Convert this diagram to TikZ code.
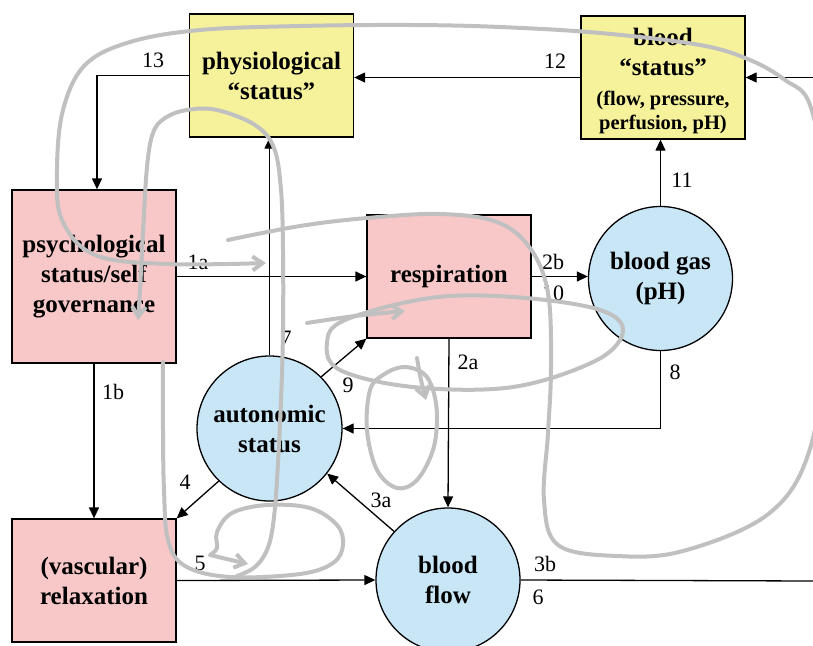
\documentclass[tikz,border=0pt]{standalone}
\usepackage{fontspec}
\setmainfont{Liberation Serif}
\usetikzlibrary{arrows.meta}
\definecolor{boxyellow}{RGB}{245,242,155}
\definecolor{boxpink}{RGB}{248,200,201}
\definecolor{circblue}{RGB}{200,230,246}
\definecolor{scribble}{RGB}{192,192,192}
\tikzset{
  boxbase/.style={draw, line width=1.3pt, minimum width=164pt, minimum height=123pt, inner sep=0pt, align=center, font=\fontsize{25}{30}\selectfont\bfseries},
  ybox/.style={boxbase, fill=boxyellow},
  pbox/.style={boxbase, fill=boxpink},
  cnode/.style={circle, draw, line width=1.3pt, fill=circblue, minimum size=145pt, inner sep=0pt, align=center, font=\fontsize{25}{30}\selectfont\bfseries},
  link/.style={line width=1.3pt, -{Triangle[length=11pt,width=10pt]}},
  plainlink/.style={line width=1.3pt},
  lbl/.style={font=\fontsize{22}{26}\selectfont, inner sep=0pt},
  scr/.style={draw=scribble, line width=4pt, line cap=round, line join=round},
  scrarr/.style={scr, -{Straight Barb[length=10pt,width=14pt]}},
}
\newcommand{\smallline}[1]{{\fontsize{20.5}{24}\selectfont #1}}
\begin{document}
\begin{tikzpicture}[x=1pt, y=-1pt]
\useasboundingbox (0,0) rectangle (813,645);
\clip (0,0) rectangle (813,645);
% nodes
\node[ybox] (phys) at (271.5,75.5) {physiological\\“status”};
\node[ybox] (bstat) at (663,77.5) {\rule{0pt}{24pt}blood\\“status”\\\smallline{(flow, pressure,}\\[-6pt]\smallline{perfusion, pH)}};
\node[pbox, minimum height=173pt] (psych) at (94,276.5) {psychological\\status/self\\governance};
\node[pbox] (resp) at (449,276.5) {respiration};
\node[cnode, minimum size=144pt] (bgas) at (660.5,278.5) {blood gas\\(pH)};
\node[cnode] (auto) at (269.5,428.5) {autonomic\\status};
\node[pbox] (relax) at (94,580.5) {(vascular)\\relaxation};
\node[cnode, minimum size=144pt] (bflow) at (448,580) {blood\\flow};
\coordinate (R1) at (813,77.5);
\coordinate (R2) at (813,581);
% connectors
\draw[link] (phys.west) -| ([xshift=3pt]psych.north);
\draw[link] (bstat.west) -- (bstat.west -| phys.east);
\draw[link] (R1) -- (bstat.east);
\draw[link] (bgas.north) -- (bgas.north |- bstat.south);
\draw[link] (psych.east) -- (resp.west);
\draw[link] (resp.east) -- (resp.east -| bgas.west);
\draw[link] (resp.south) -- (bflow.north);
\draw[link] (bgas.south) |- (auto.east);
\draw[link] (auto.north) -- (auto.north |- phys.south);
\draw[link] (auto.45) -- (resp.south west);
\draw[link] (psych.south) -- (relax.north);
\draw[link] (auto.226) -- (relax.north east);
\draw[link] (relax.east) -- (bflow.west);
\draw[link] (bflow.138) -- (auto.-38);
\draw[plainlink] (bflow.east) -- (R2);
% labels
\node[lbl] (l13) at (153,60) {13};
\node[lbl] (l12) at (555,61) {12};
\node[lbl] (l11) at (682,180) {11};
\node[lbl] (l1a) at (198,262) {1a};
\node[lbl] (l2b) at (553,262) {2b};
\node[lbl] (l10) at (553,293) {10};
\node[lbl] (l2a) at (468,362) {2a};
\node[lbl] (l8) at (675,372) {8};
\node[lbl] (l7) at (286,338) {7};
\node[lbl] (l9) at (348,385) {9};
\node[lbl] (l1b) at (113,392) {1b};
\node[lbl] (l4) at (185,482) {4};
\node[lbl] (l5) at (200,563) {5};
\node[lbl] (l3a) at (381,500) {3a};
\node[lbl] (l3b) at (545,564) {3b};
\node[lbl] (l6) at (538,597) {6};
% scribbles
\draw[scrarr] plot[smooth, tension=0.6] coordinates {(228,240) (300,226) (367,218) (440,214) (497,222) (530,248) (548,293) (551,367) (548,433) (544,500) (558,545) (617,556) (683,551) (767,515) (808,455) (824,350) (824,190) (810,105) (785,80) (750,60) (700,45) (600,33) (500,27) (410,25) (300,26) (200,30) (130,42) (85,65) (63,110) (57,170) (62,220) (95,255) (167,264) (266,263)};
\draw[scrarr] plot[smooth, tension=0.6] coordinates {(163,362) (163,430) (164,490) (168,540) (185,566) (230,577) (300,574) (333,563) (343,545) (337,525) (310,508) (267,505) (232,513) (217,532) (217,548) (210,555)} -- (248,564);
\draw[scrarr] plot[smooth, tension=0.6] coordinates {(237,576) (255,567) (267,550) (273,525) (277,480) (281,400) (283,330) (283,250) (281,190) (274,148) (255,125) (217,110) (187,110) (165,118) (153,133) (147,167) (143,233) (140,290) (138,320)};
\draw[scrarr] plot[smooth, tension=0.6] coordinates {(307,323) (355,316) (405,311)};
\draw[scr] plot[smooth cycle, tension=0.6] coordinates {(345,320) (430,298) (513,297) (597,309) (623,330) (597,360) (513,387) (413,387) (340,370) (327,343)};
\draw[scrarr] plot[smooth, tension=0.6] coordinates {(417,358) (421,380) (426,400)};
\draw[scr] plot[smooth cycle, tension=0.6] coordinates {(383,375) (370,390) (367,430) (377,470) (397,488) (417,480) (433,450) (437,417) (433,390) (423,373) (403,367)};
\end{tikzpicture}
\end{document}
